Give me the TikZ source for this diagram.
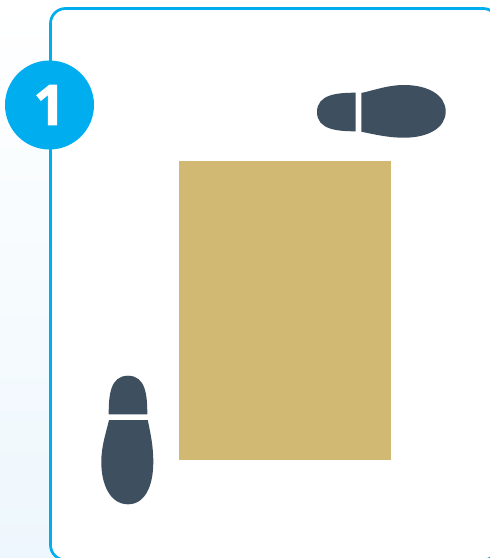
\documentclass[tikz,border=0pt]{standalone}
\usepackage{fontspec}
\setmainfont{Open Sans}
\newfontfamily\badgefont[UprightFont=* Bold,FakeBold=1.6]{Open Sans}
\definecolor{cyanline}{HTML}{00AEEF}
\definecolor{shoe}{HTML}{3E4F5F}
\definecolor{mat}{HTML}{D1B973}
\definecolor{bgbottom}{HTML}{EEF7FD}
\tikzset{
  panel/.style={draw=cyanline,line width=2.7pt,fill=white,rounded corners=15pt},
  badge/.style={circle,fill=cyanline,minimum size=89pt,inner sep=0pt,text=white,font=\badgefont\fontsize{56}{56}\selectfont},
  sole/.style={fill=shoe,draw=none},
}
\begin{document}
\begin{tikzpicture}[x=1pt,y=-1pt]
\useasboundingbox (0,0) rectangle (490,558);
\clip (0,0) rectangle (490,558);
\shade[top color=white,bottom color=bgbottom] (0,0) rectangle (490,558);
\draw[panel] (50.5,8.5) rectangle (498,560);
\fill[mat] (179,161) rectangle (391,460);
\node[badge] (one) at (49.5,105) {1};
% horizontal shoe
\fill[sole] (355.7,92.7) .. controls (338,92.7) and (317,94) .. (317,112)
  .. controls (317,130) and (338,131.3) .. (355.7,131.3) -- cycle;
\fill[sole] (361.3,93) .. controls (375,90) and (388,85) .. (404,85)
  .. controls (428,85) and (445.7,95) .. (445.7,111.5)
  .. controls (445.7,128) and (428,137.7) .. (404,137.7)
  .. controls (388,137.7) and (375,134.5) .. (361.3,131.7) -- cycle;
% vertical shoe
\fill[sole] (108.7,414.3) .. controls (108.7,396) and (110,375.7) .. (128,375.7)
  .. controls (146,375.7) and (147.3,396) .. (147.3,414.3) -- cycle;
\fill[sole] (109,420) .. controls (106,433) and (101.3,446) .. (101.3,462)
  .. controls (101.3,486) and (111,504.3) .. (128,504.3)
  .. controls (145,504.3) and (153.3,486) .. (153.3,462)
  .. controls (153.3,446) and (150.5,433) .. (147.7,420) -- cycle;
\end{tikzpicture}
\end{document}
